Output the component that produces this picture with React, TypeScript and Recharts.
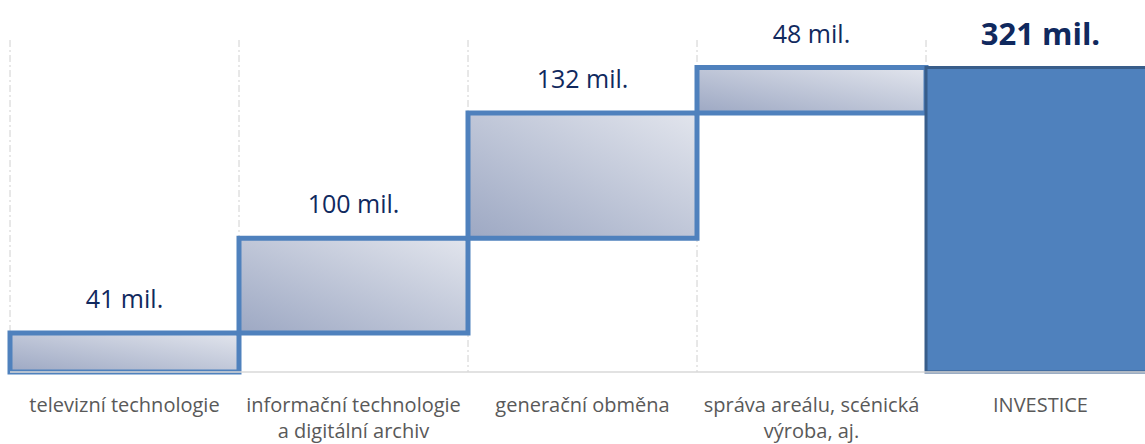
import { BarChart, Bar, XAxis, YAxis, CartesianGrid, Cell, LabelList } from "recharts";

const categories = [
  "televizní technologie",
  "informační technologie\na digitální archiv",
  "generační obměna",
  "správa areálu, scénická\nvýroba, aj.",
  "INVESTICE",
];
const increments = [41, 100, 132, 48];
const total = 321;
const valueLabels = ["41 mil.", "100 mil.", "132 mil.", "48 mil.", "321 mil."];

// waterfall: invisible base + visible step
const data = categories.map((name, i) => {
  const isTotal = i === increments.length;
  const base = isTotal ? 0 : increments.slice(0, i).reduce((a, b) => a + b, 0);
  return { name, base, value: isTotal ? total : increments[i], label: valueLabels[i] };
});

const FONT = "'Open Sans', sans-serif";

const CategoryTick = (props: any) => {
  const { x, y, payload } = props;
  const lines = String(payload.value).split("\n");
  return (
    <g>
      {lines.map((ln, i) => (
        <text
          key={i}
          x={x}
          y={y + 32 + i * 26}
          textAnchor="middle"
          dominantBaseline="central"
          fill="#595959"
          fontSize={20}
          fontFamily={FONT}
        >
          {ln}
        </text>
      ))}
    </g>
  );
};

const StepLabel = (props: any) => {
  const { x, y, width, index } = props;
  const isTotal = index === data.length - 1;
  return (
    <text
      x={x + width / 2}
      y={y - 35}
      textAnchor="middle"
      dominantBaseline="central"
      fill="#10295e"
      fontSize={isTotal ? 31 : 25}
      fontWeight={isTotal ? 700 : 400}
      fontFamily={FONT}
    >
      {data[index].label}
    </text>
  );
};

export default function App() {
  const n = categories.length;
  return (
    <div style={{ position: "absolute", left: 0, top: 0, width: 1145, height: 444, overflow: "hidden", background: "#fff" }}>
      <BarChart
        width={1160}
        height={444}
        data={data}
        margin={{ top: 40, right: 5, bottom: 0, left: 10 }}
        barCategoryGap={0}
      >
        <defs>
          <linearGradient id="stepFill" x1="0" y1="1" x2="1" y2="0">
            <stop offset="0%" stopColor="#9da8c3" />
            <stop offset="100%" stopColor="#e2e5ed" />
          </linearGradient>
        </defs>
        <CartesianGrid
          horizontal={false}
          stroke="#d0d0d0"
          strokeDasharray="7 3 2 3"
          verticalCoordinatesGenerator={({ offset }: any) =>
            Array.from({ length: n }, (_, i) => offset.left + (i * offset.width) / n)
          }
        />
        <XAxis
          dataKey="name"
          interval={0}
          height={72}
          tickLine={false}
          tickSize={0}
          tickMargin={0}
          axisLine={{ stroke: "#d9d9d9", strokeWidth: 1.5 }}
          tick={<CategoryTick />}
        />
        <YAxis hide domain={[0, 350]} />
        <Bar dataKey="base" stackId="w" fill="transparent" isAnimationActive={false} />
        <Bar dataKey="value" stackId="w" isAnimationActive={false}>
          {data.map((d, i) =>
            i === data.length - 1 ? (
              <Cell key={i} fill="#4f81bd" stroke="#385d8a" strokeWidth={3} />
            ) : (
              <Cell key={i} fill="url(#stepFill)" stroke="#4f81bd" strokeWidth={5} />
            )
          )}
          <LabelList dataKey="label" content={<StepLabel />} />
        </Bar>
      </BarChart>
    </div>
  );
}
